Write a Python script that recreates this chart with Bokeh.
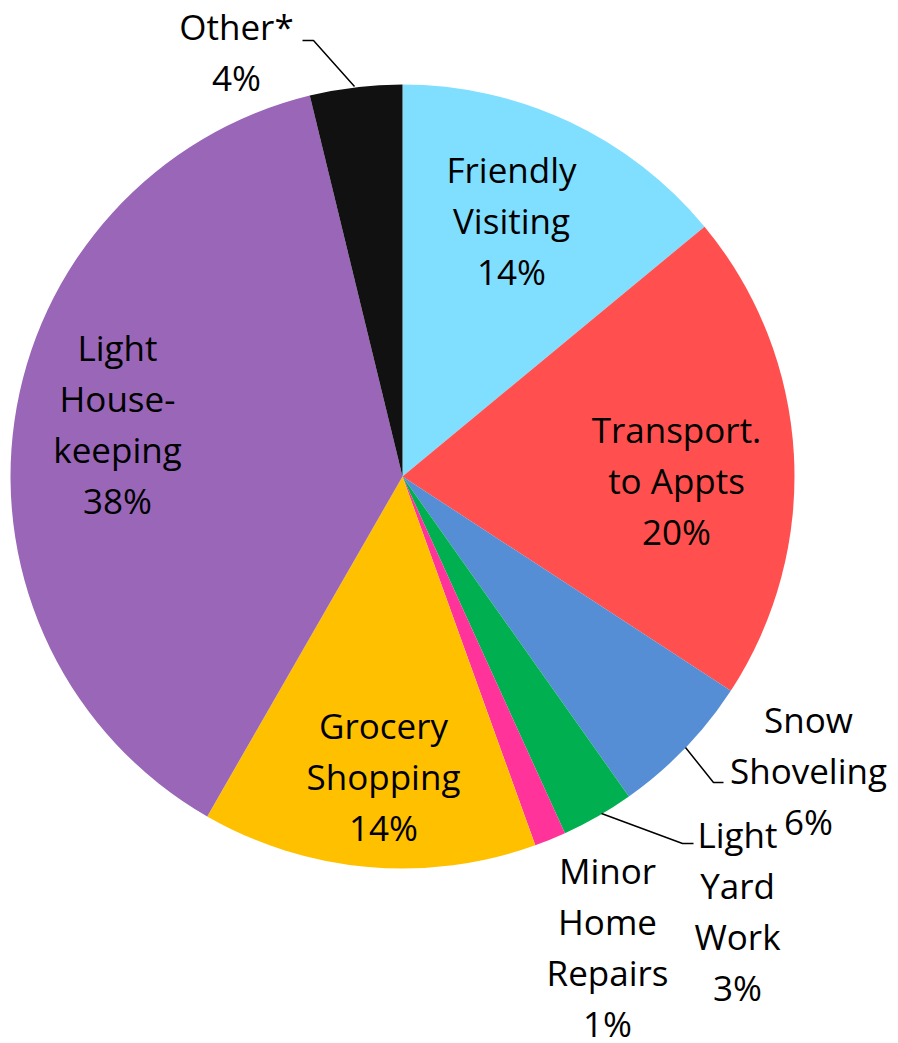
import math
from bokeh.plotting import figure
from bokeh.models import Range1d
from bokeh.core.properties import value
from bokeh.embed import file_html
from bokeh.resources import INLINE

# ---- data ----
categories = ["Friendly Visiting", "Transport. to Appts", "Snow Shoveling",
              "Light Yard Work", "Minor Home Repairs", "Grocery Shopping",
              "Light Housekeeping", "Other*"]
shares = [14.0, 20.2, 6.0, 3.0, 1.3, 13.8, 37.9, 3.8]
pct_labels = ["14%", "20%", "6%", "3%", "1%", "14%", "38%", "4%"]
label_lines = [["Friendly", "Visiting"], ["Transport.", "to Appts"], ["Snow", "Shoveling"],
               ["Light", "Yard", "Work"], ["Minor", "Home", "Repairs"], ["Grocery", "Shopping"],
               ["Light", "House-", "keeping"], ["Other*"]]
colors = ["#80DFFF", "#FF4F4F", "#558ED5", "#00B050", "#FF3399", "#FFC000", "#9966B8", "#111111"]

# ---- layout (page pixel coordinates) ----
CX, CY, R = 402, 476, 392
LINE_H = 51
label_pos = [(511, 220), (676, 480), (808, 770), (737, 910), (607, 946),
             (383, 776), (117, 423), (236, 51)]
leaders = [None, None, [(685, 747), (713, 782), (723, 782)],
           [(601, 813), (682, 843), (693, 843)], None, None, None,
           [(354, 86), (313, 40), (302, 40)]]

W, H = 898, 1043
p = figure(width=W, height=H, output_backend="svg", toolbar_location=None,
           x_range=Range1d(0, W), y_range=Range1d(-H, 0),
           min_border=0)
p.axis.visible = False
p.grid.visible = False
p.outline_line_color = None
p.background_fill_color = "white"

total = sum(shares)
cum = 0.0
for s, c in zip(shares, colors):
    a0 = math.pi / 2 - 2 * math.pi * cum / total
    cum += s
    a1 = math.pi / 2 - 2 * math.pi * cum / total
    p.wedge(x=CX, y=-CY, radius=R, start_angle=a0, end_angle=a1,
            direction="clock", fill_color=c, line_color=None)

for lines, pct, (lx, ly), ld in zip(label_lines, pct_labels, label_pos, leaders):
    all_lines = lines + [pct]
    n = len(all_lines)
    ys = [-(ly + (i - (n - 1) / 2) * LINE_H) for i in range(n)]
    p.text(x=[lx] * n, y=ys, text=all_lines, text_align="center",
           text_baseline="middle", text_font=value("Open Sans"),
           text_font_size="35px", text_color="black")
    if ld:
        p.line(x=[q[0] for q in ld], y=[-q[1] for q in ld],
               line_color="black", line_width=1.5)

open("out.html", "w").write(file_html(p, INLINE))
